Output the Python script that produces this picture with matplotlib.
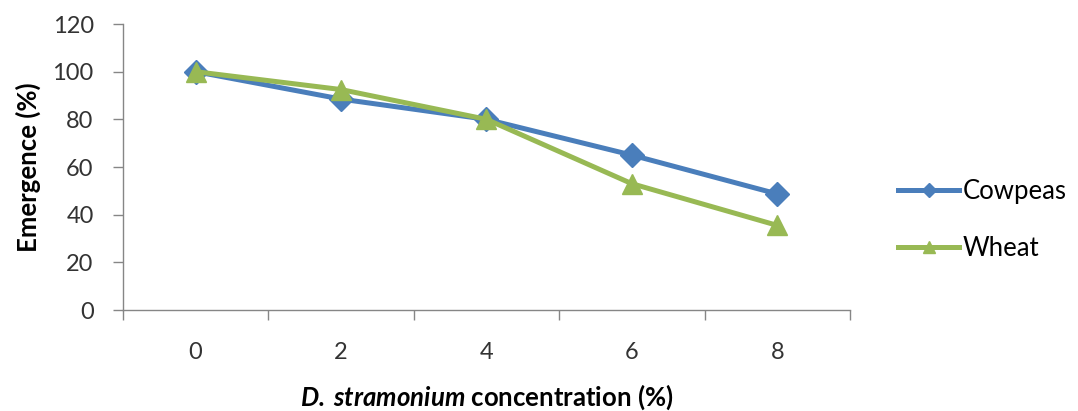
import matplotlib.pyplot as plt
import numpy as np

plt.rcParams["font.family"] = ["Lato", "DejaVu Sans"]
plt.rcParams["mathtext.fontset"] = "custom"
plt.rcParams["mathtext.bfit"] = "Lato:bold:italic"
plt.rcParams["mathtext.rm"] = "Lato"

concentration = ["0", "2", "4", "6", "8"]
cowpeas = [100, 88.5, 80, 65, 48.7]
wheat = [100, 92.5, 80, 53, 35.5]

BLUE = "#4a7ebb"
GREEN = "#98b954"
GRAY = "#868686"

fig = plt.figure(figsize=(10.78, 4.11), dpi=100)
ax = fig.add_axes([0.114, 0.2457, 0.6745, 0.6959])

x = np.arange(len(concentration))
ax.plot(x, cowpeas, color=BLUE, lw=3.6, marker="D", ms=12, label="Cowpeas", zorder=3)
ax.plot(x, wheat, color=GREEN, lw=3.6, marker="^", ms=15, label="Wheat", zorder=4)

ax.set_xlim(-0.5, len(concentration) - 0.5)
ax.set_ylim(0, 120)
ax.set_yticks(range(0, 121, 20))
ax.set_xticks(x)
ax.set_xticklabels(concentration)
ax.set_xticks(np.arange(-0.5, len(concentration)), minor=True)
ax.tick_params(axis="x", which="major", length=0, pad=23, labelsize=17, colors="#333333")
ax.tick_params(axis="x", which="minor", length=7, color=GRAY, width=1)
ax.tick_params(axis="y", length=7, color=GRAY, width=1, labelsize=17, pad=14, labelcolor="#333333")

for s in ["top", "right"]:
    ax.spines[s].set_visible(False)
for s in ["left", "bottom"]:
    ax.spines[s].set_color(GRAY)
    ax.spines[s].set_linewidth(1)

ax.set_ylabel("Emergence (%)", fontsize=18.5, fontweight="bold", labelpad=8)
ax.set_xlabel(r"$\mathbfit{D.}\,\mathbfit{stramonium}$ concentration (%)", fontsize=18.5,
              fontweight="bold", labelpad=14)

fig.legend(loc="center left", bbox_to_anchor=(0.812, 0.465), frameon=False,
           fontsize=18.5, handlelength=2.35, handletextpad=0.15, labelspacing=1.25,
           markerscale=0.6)

fig.savefig("out.png", dpi=100)
